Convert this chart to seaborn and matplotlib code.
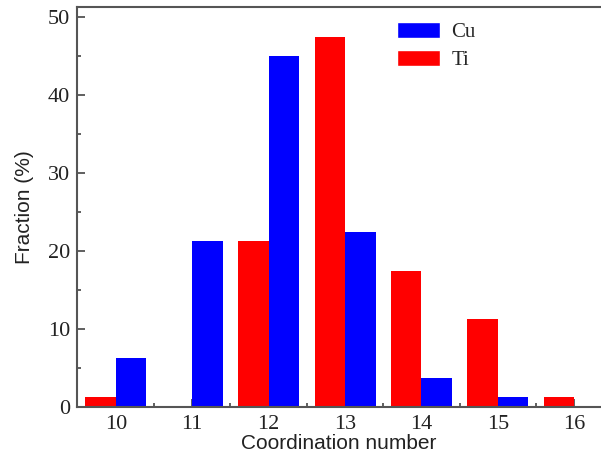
import matplotlib
matplotlib.use("Agg")
import matplotlib.pyplot as plt
from matplotlib.patches import Patch
from matplotlib.ticker import MultipleLocator, FixedLocator
import seaborn as sns
import pandas as pd

# Coordination-number distribution (%) for each element
coord_numbers = [10, 11, 12, 13, 14, 15, 16]
ti_fraction = [1.25, 0.0, 21.25, 47.5, 17.5, 11.25, 1.25]
cu_fraction = [6.25, 21.25, 45.0, 22.5, 3.75, 1.25, 0.0]
species = ["Ti", "Cu"]
colors = {"Ti": "#ff0000", "Cu": "#0000ff"}

df = pd.DataFrame({
    "cn": [str(c) for c in coord_numbers] * 2,
    "fraction": ti_fraction + cu_fraction,
    "species": ["Ti"] * len(coord_numbers) + ["Cu"] * len(coord_numbers),
})

sns.set_style("ticks")
fig = plt.figure(figsize=(6.01, 4.59), dpi=100)
ax = fig.add_axes([0.128, 0.113, 0.872, 0.872])

sns.barplot(data=df, x="cn", y="fraction", hue="species",
            hue_order=species, palette=colors,
            order=[str(c) for c in coord_numbers],
            width=0.8, dodge=True, saturation=1, linewidth=0,
            ax=ax, legend=False)

ax.set_xlim(-0.51, 6.35)
ax.set_ylim(0, 51.3)

serif = ["Liberation Serif", "DejaVu Serif"]
sans = ["Liberation Sans", "DejaVu Sans"]

ax.yaxis.set_major_locator(MultipleLocator(10))
ax.yaxis.set_minor_locator(MultipleLocator(5))
ax.xaxis.set_minor_locator(FixedLocator([i + 0.5 for i in range(len(coord_numbers) - 1)]))
ax.tick_params(which="both", direction="in", colors="#444444", width=1.2,
               labelcolor="#222222")
ax.tick_params(which="major", length=6)
ax.tick_params(which="minor", length=3)
ax.tick_params(axis="x", which="major", pad=6)
ax.tick_params(axis="y", which="major", pad=5)
for lbl in ax.get_xticklabels() + ax.get_yticklabels():
    lbl.set_fontfamily(serif)
    lbl.set_fontsize(16)

ax.set_xlabel("Coordination number", fontsize=15, family=sans, color="#222222", labelpad=0)
ax.set_ylabel("Fraction (%)", fontsize=15, family=sans, color="#222222", labelpad=10)

for side in ["left", "bottom", "top"]:
    ax.spines[side].set_color("#555555")
    ax.spines[side].set_linewidth(1.5)
ax.spines["right"].set_visible(False)

handles = [Patch(facecolor=colors["Cu"], label="Cu"),
           Patch(facecolor=colors["Ti"], label="Ti")]
ax.legend(handles=handles, loc="upper left", bbox_to_anchor=(0.611, 0.963),
          frameon=False, prop={"family": serif, "size": 15},
          borderpad=0, borderaxespad=0,
          handlelength=2.05, handleheight=0.85, handletextpad=0.55,
          labelspacing=0.35)

fig.savefig("out.png", dpi=100, facecolor="white")
